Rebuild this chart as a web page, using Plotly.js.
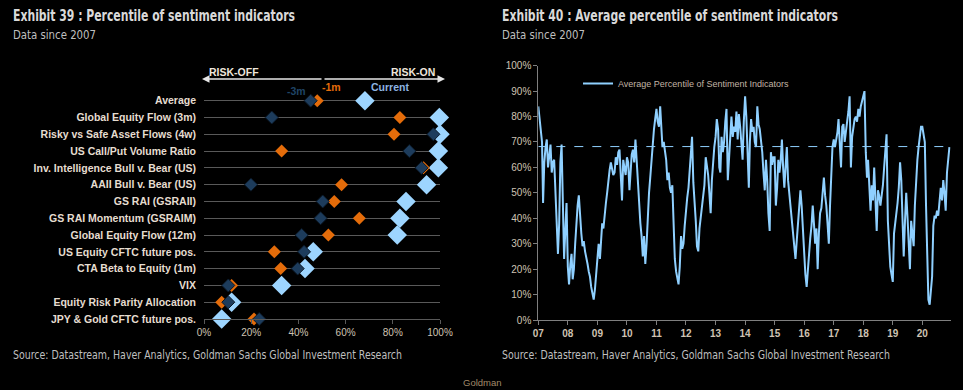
<!DOCTYPE html>
<html><head><meta charset="utf-8">
<script src="https://cdn.plot.ly/plotly-3.0.1.min.js"></script>
<style>
html,body{margin:0;padding:0;background:#000;}
#chart{width:963px;height:390px;}
</style>
</head><body><div id="chart"></div>
<script>
// ---------- Exhibit 39 data (percentile, %) ----------
const indicators = [
  "Average",
  "Global Equity Flow (3m)",
  "Risky vs Safe Asset Flows (4w)",
  "US Call/Put Volume Ratio",
  "Inv. Intelligence Bull v. Bear (US)",
  "AAII Bull v. Bear (US)",
  "GS RAI (GSRAII)",
  "GS RAI Momentum (GSRAIM)",
  "Global Equity Flow (12m)",
  "US Equity CFTC future pos.",
  "CTA Beta to Equity (1m)",
  "VIX",
  "Equity Risk Parity Allocation",
  "JPY & Gold CFTC future pos."
];
const currentPct    = [68.2, 99.7, 100, 99.3, 99.3, 94.3, 85.6, 83.0, 81.9, 46.3, 42.8, 32.9, 11.7, 7.5];
const oneMonthPct   = [48.0, 83.0, 80.5, 32.9, 93.0, 58.3, 55.2, 65.8, 52.7, 29.8, 32.5, 11.7, 7.5, 21.2];
const threeMonthPct = [45.2, 28.7, 97.2, 87.0, 92.2, 19.9, 50.3, 49.4, 41.4, 42.4, 39.7, 10.3, 10.3, 23.4];
const xTicksLeft = [0, 20, 40, 60, 80, 100];
const xTickTextLeft = ["0%", "20%", "40%", "60%", "80%", "100%"];

// ---------- Exhibit 40 data (semi-monthly, %) ----------
const avg2007 = [84,80,76,70,46,62,68,71,60,64,69,58,62,63,48,34,26,38,62,69,45,24,35,46];
const avg2008 = [21,14,22,26,16,20,30,39,45,49,40,34,29,31,27,25,22,19,17,13,11,8,12,17];
const avg2009 = [22,30,24,33,38,36,43,46,50,55,59,62,60,57,58,64,61,66,67,57,47,63,60,57];
const avg2010 = [64,62,51,58,65,67,62,71,63,55,44,38,33,25,33,22,30,41,50,56,64,70,75,79];
const avg2011 = [83,78,76,84,73,68,70,66,63,55,58,52,50,53,40,24,19,16,14,21,33,28,30,37];
const avg2012 = [44,48,52,59,66,72,54,48,39,29,27,36,40,45,49,53,64,60,57,50,42,55,63,68];
const avg2013 = [72,79,75,60,58,72,66,70,78,83,55,62,72,80,72,76,74,82,71,81,76,68,63,78];
const avg2014 = [88,80,68,52,70,79,74,76,70,68,84,77,75,71,66,58,51,63,55,42,35,66,61,64];
const avg2015 = [64,45,52,63,58,62,71,60,52,60,68,55,50,47,40,37,29,24,31,38,44,51,45,37];
const avg2016 = [24,18,13,21,28,32,37,45,38,30,36,20,34,42,44,50,56,49,45,38,30,45,60,68];
const avg2017 = [71,68,71,74,79,67,60,76,77,70,74,79,82,88,60,72,76,79,80,78,83,80,84,86];
const avg2018 = [89,90,66,56,63,50,43,53,47,60,49,35,51,49,45,48,53,60,66,73,39,30,21,18];
const avg2019 = [15,34,38,41,46,52,62,55,42,25,39,50,41,29,20,39,33,29,45,55,63,68,72,76];
const avg2020 = [76,73,70,45,22,8,6,13,17,37,41,40,43,41,48,52,47,55,50,43,58,63,68];
const yearly = [[2007,avg2007],[2008,avg2008],[2009,avg2009],[2010,avg2010],[2011,avg2011],[2012,avg2012],[2013,avg2013],
  [2014,avg2014],[2015,avg2015],[2016,avg2016],[2017,avg2017],[2018,avg2018],[2019,avg2019],[2020,avg2020]];

const tsDates = [], tsVals = [];
yearly.forEach(([yr, vals]) => {
  vals.forEach((v, i) => {
    const m = Math.floor(i / 2) + 1, d = (i % 2) ? 16 : 1;
    tsDates.push(yr + "-" + String(m).padStart(2, "0") + "-" + String(d).padStart(2, "0"));
    tsVals.push(v);
  });
});

// ---------- layout helpers ----------
const W = 963, H = 390;
const px = v => v / W, py = v => 1 - v / H;
const narrow = "Liberation Sans Narrow, DejaVu Sans Condensed, Liberation Sans, Arial, sans-serif";
const sans = "Liberation Sans, Arial, sans-serif";
const tan = "#cfc3b3";

const traces = [
  {x: currentPct, y: indicators, type: "scatter", mode: "markers", xaxis: "x", yaxis: "y", cliponaxis: false,
   marker: {symbol: "diamond", size: 15, color: "#9dd5ff", line: {width: 0}}, showlegend: false, hoverinfo: "skip"},
  {x: oneMonthPct, y: indicators, type: "scatter", mode: "markers", xaxis: "x", yaxis: "y", cliponaxis: false,
   marker: {symbol: "diamond", size: 10, color: "#e46c0a", line: {width: 0}}, showlegend: false, hoverinfo: "skip"},
  {x: threeMonthPct, y: indicators, type: "scatter", mode: "markers", xaxis: "x", yaxis: "y", cliponaxis: false,
   marker: {symbol: "diamond", size: 10, color: "#1d3c5c", line: {width: 1, color: "#0b1826"}}, showlegend: false, hoverinfo: "skip"},
  {x: tsDates, y: tsVals, type: "scatter", mode: "lines", xaxis: "x2", yaxis: "y2",
   name: "Average Percentile of Sentiment Indicators",
   line: {color: "#8fd0ff", width: 2}, showlegend: true, hoverinfo: "skip"}
];

// condensed-style texts: [text, left x, centre y, size, bold, color, target width]
const title39 = "Exhibit 39 : Percentile of sentiment indicators";
const title40 = "Exhibit 40 : Average percentile of sentiment indicators";
const subtitle = "Data since 2007";
const sourceText = "Source: Datastream, Haver Analytics, Goldman Sachs Global Investment Research";
const narrowTexts = [
  [title39, 11, 16, 16, true, "#d9d9d9", 282],
  [subtitle, 11, 34, 13, false, "#bfbfbf", 83],
  [title40, 500, 16, 16, true, "#d9d9d9", 336],
  [subtitle, 500, 34, 13, false, "#bfbfbf", 83],
  [sourceText, 11, 355, 12, false, "#bfbfbf", 389],
  [sourceText, 500, 355, 12, false, "#bfbfbf", 388]
];

const annotations = narrowTexts.map(t => ({
  text: t[4] ? "<b>" + t[0] + "</b>" : t[0], xref: "paper", yref: "paper",
  x: px(t[1]), y: py(t[2]), xanchor: "left", yanchor: "middle", showarrow: false,
  font: {family: narrow, size: t[3], color: t[5]}
}));

annotations.push(
  {text: "Goldman", xref: "paper", yref: "paper", x: px(483), y: py(382), xanchor: "center", yanchor: "middle",
   showarrow: false, font: {family: sans, size: 9.5, color: "#a08a6a"}},
  {text: "", xref: "paper", yref: "paper", x: px(202), y: py(79), ax: px(323), ay: py(79), axref: "paper", ayref: "paper",
   showarrow: true, arrowhead: 2, arrowsize: 1, arrowwidth: 1.5, arrowcolor: "#e6e6e6"},
  {text: "", xref: "paper", yref: "paper", x: px(445), y: py(79), ax: px(323), ay: py(79), axref: "paper", ayref: "paper",
   showarrow: true, arrowhead: 2, arrowsize: 1, arrowwidth: 1.5, arrowcolor: "#e6e6e6"},
  {text: "<b>RISK-OFF</b>", xref: "paper", yref: "paper", x: px(207), y: py(72), xanchor: "left", yanchor: "middle",
   showarrow: false, font: {family: sans, size: 10.5, color: "#eee6dc"}},
  {text: "<b>RISK-ON</b>", xref: "paper", yref: "paper", x: px(437), y: py(72), xanchor: "right", yanchor: "middle",
   showarrow: false, font: {family: sans, size: 10.5, color: "#eee6dc"}},
  {text: "<b>-3m</b>", xref: "paper", yref: "paper", x: px(296), y: py(91), xanchor: "center", yanchor: "middle",
   showarrow: false, font: {family: sans, size: 10.5, color: "#1f4466"}},
  {text: "<b>-1m</b>", xref: "paper", yref: "paper", x: px(331), y: py(87), xanchor: "center", yanchor: "middle",
   showarrow: false, font: {family: sans, size: 10.5, color: "#e46c0a"}},
  {text: "<b>Current</b>", xref: "paper", yref: "paper", x: px(390), y: py(87), xanchor: "center", yanchor: "middle",
   showarrow: false, font: {family: sans, size: 10.5, color: "#8db4e2"}}
);

const layout = {
  width: W, height: H,
  paper_bgcolor: "#000", plot_bgcolor: "#000",
  margin: {l: 0, r: 0, t: 0, b: 0},
  showlegend: true,
  legend: {x: px(578), y: py(69), xanchor: "left", yanchor: "top", bgcolor: "rgba(0,0,0,0)",
           font: {family: sans, size: 9, color: "#c2b4a4"}},
  xaxis: {domain: [px(204), px(440)], anchor: "y", range: [0, 100], tickmode: "array",
          tickvals: xTicksLeft, ticktext: xTickTextLeft,
          showgrid: false, zeroline: false, showline: true, linecolor: "#595959", linewidth: 1,
          ticks: "outside", ticklen: 4, tickcolor: "#595959",
          tickfont: {family: sans, size: 10, color: tan}},
  yaxis: {domain: [py(319), py(83.9)], anchor: "x", type: "category", categoryarray: indicators,
          range: [13, -1], autorange: false, showgrid: true, gridcolor: "#595959", gridwidth: 1,
          zeroline: false, showline: false, ticks: "", ticklabelstandoff: 7,
          tickfont: {family: sans, size: 10.5, color: "#e6ddd0", weight: "bold"}},
  xaxis2: {domain: [px(538.3), px(950.7)], anchor: "y2", type: "date",
           range: ["2007-01-01", "2020-12-17"], tick0: "2007-01-01", dtick: "M12", tickformat: "%y",
           showgrid: false, zeroline: false, showline: true, linecolor: "#7f7f7f", linewidth: 1,
           ticks: "outside", ticklen: 4, tickcolor: "#7f7f7f",
           tickfont: {family: sans, size: 10, color: tan, weight: "bold"}},
  yaxis2: {domain: [py(320), py(65.7)], anchor: "x2", range: [0, 100], dtick: 10, ticksuffix: "%",
           showgrid: false, zeroline: false, showline: true, linecolor: "#7f7f7f", linewidth: 1,
           ticks: "outside", ticklen: 4, tickcolor: "#7f7f7f",
           tickfont: {family: sans, size: 10, color: tan}},
  shapes: [
    {type: "line", xref: "x2", yref: "y2", x0: "2007-01-01", x1: tsDates[tsDates.length - 1],
     y0: currentPct[0], y1: currentPct[0], line: {color: "#8fd0ff", width: 1, dash: "dash"}}
  ],
  annotations: annotations
};

Plotly.newPlot("chart", traces, layout, {displayModeBar: false, staticPlot: true}).then(gd => {
  // condense the title / source texts to the reference width, keeping their left edge
  const nodes = gd.querySelectorAll("g.annotation text.annotation-text");
  narrowTexts.forEach((t, i) => {
    const el = nodes[i];
    if (!el) return;
    const w = el.getComputedTextLength();
    if (w <= t[6]) return;
    const left = el.getBBox().x;
    el.setAttribute("text-anchor", "start");
    el.setAttribute("x", left);
    el.querySelectorAll("tspan").forEach(ts => { if (ts.hasAttribute("x")) ts.setAttribute("x", left); });
    el.setAttribute("textLength", t[6]);
    el.setAttribute("lengthAdjust", "spacingAndGlyphs");
  });
});
</script>
</body></html>
